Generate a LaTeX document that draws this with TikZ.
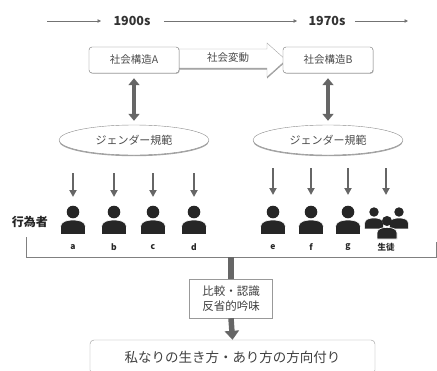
\documentclass[tikz,border=0pt]{standalone}
\usepackage{fontspec}
\setmainfont{Noto Sans CJK JP}
\usetikzlibrary{arrows.meta,calc,shadows,shapes.geometric}

\tikzset{
  struct/.style={draw=black!55, rounded corners=3pt, fill=white, minimum width=90pt, minimum height=26pt, text=black!70, font=\fontsize{10.5}{12}\selectfont, drop shadow={shadow xshift=0.7pt, shadow yshift=-0.8pt, fill=black!50}},
  norm/.style={ellipse, draw=black!45, fill=white, minimum width=150pt, minimum height=30pt, text=black!70, font=\fontsize{11}{12}\selectfont, drop shadow={shadow xshift=0pt, shadow yshift=-1.2pt, fill=black!70}},
  year/.style={font=\bfseries\fontsize{12.5}{14}\selectfont, text=black!80},
  timeline/.style={draw=black!55, line width=0.8pt, -{Triangle[width=3.5pt,length=3.5pt]}},
  biarrow/.style={draw=black!60, line width=4.5pt, {Triangle[width=11pt,length=7pt]}-{Triangle[width=11pt,length=7pt]}},
  down/.style={draw=black!60, line width=2pt, -{Triangle[width=7pt,length=7pt]}},
  icon/.style={fill=black!85},
  lbl/.style={font=\bfseries\fontsize{8.5}{10}\selectfont, text=black!85},
}

\newcommand\person[3]{% x, y of head, scale
  \begin{scope}[shift={(#1,#2)}, scale=#3]
    \fill[icon] (0,0) circle (6.3);
    \fill[icon, draw=white, line width=0.6pt] (-12.5,22.5) -- (-12.5,15) .. controls (-12.5,9.5) and (-6,8) .. (0,8)
      .. controls (6,8) and (12.5,9.5) .. (12.5,15) -- (12.5,22.5) -- cycle;
  \end{scope}}

\begin{document}
\begin{tikzpicture}[x=1pt, y=-1pt]
  %%%%% START %%%%%
  \useasboundingbox (0,0) rectangle (437,370);
  \clip (0,0) rectangle (437,370);

  % time line
  \node[year] (y1900) at (132,21) {1900s};
  \node[year] (y1970) at (327,21) {1970s};
  \coordinate (t0) at (47,21);
  \coordinate (t1) at (408,21);
  \draw[timeline, shorten >=9pt] (t0) -- (y1900.west);
  \draw[timeline, shorten <=10pt, shorten >=8pt] (y1900.east) -- (y1970.west);
  \draw[timeline, shorten <=6pt] (y1970.east) -- (t1);

  % social change arrow
  \path[fill=white, draw=black!35, line width=0.4pt, drop shadow={shadow xshift=0pt, shadow yshift=-1.5pt, fill=black!80}]
    (176,49) -- (267,49) -- (267,43) -- (286,60) -- (267,77) -- (267,68) -- (176,68) -- cycle;
  \node[text=black!70, font=\fontsize{10.5}{12}\selectfont] (change) at (228,58) {社会変動};

  \node[struct] (sA) at (134,60) {社会構造A};
  \node[struct] (sB) at (328,60) {社会構造B};

  \node[norm] (nA) at (134,140) {ジェンダー規範};
  \node[norm] (nB) at (328,140) {ジェンダー規範};

  \draw[biarrow, shorten <=5pt, shorten >=4pt] (sA.south) -- (nA.north);
  \draw[biarrow, shorten <=5pt, shorten >=4pt] (sB.south) -- (nB.north);

  % actors
  \node[font=\bfseries\fontsize{12}{14}\selectfont, text=black!85] (actor) at (30,222) {行為者};
  \foreach \x/\n in {73/a,114/b,153/c,194/d}{
    \person{\x}{212}{1}
    \coordinate (top\n) at (\x,173);
    \coordinate (bot\n) at (\x,197);
    \draw[down] (top\n) -- (bot\n);
    \node[lbl] (l\n) at (\x,247) {\n};
  }
  \foreach \x/\n in {273/e,311/f,348/g}{
    \person{\x}{212}{1}
    \coordinate (top\n) at (\x,168);
    \coordinate (bot\n) at (\x,195);
    \draw[down] (top\n) -- (bot\n);
    \node[lbl] (l\n) at (\x,247) {\n};
  }
  \person{374}{212}{0.75}
  \person{399}{212}{0.75}
  \person{387}{221}{0.8}
  \coordinate (toph) at (386,168);
  \coordinate (both) at (386,195);
  \draw[down] (toph) -- (both);
  \node[lbl] (lh) at (386,247) {生徒};

  % bracket
  \coordinate (bL) at (26,237);
  \coordinate (bR) at (436,242);
  \draw[black!50, line width=0.6pt] (bL) |- (bR |- 0,257) -- (bR);
  \coordinate (bM) at (231,257);

  \node[draw=black!40, fill=white, align=left, text=black!75, font=\fontsize{11.5}{15}\selectfont, minimum width=83pt, minimum height=39pt, inner sep=2pt, drop shadow={shadow xshift=0.8pt, shadow yshift=-1.2pt, fill=black!75}] (cmp) at (231,298.5) {比較・認識\\反省的吟味};
  \draw[draw=black!60, line width=5.5pt] (bM) -- (cmp.north);

  \node[draw=black!40, rounded corners=4pt, fill=white, minimum width=285pt, minimum height=34pt, text=black!75, font=\fontsize{13.5}{15}\selectfont] (goal) at (232.5,357) {私なりの生き方・あり方の方向付り};
  \draw[draw=black!60, line width=5.5pt, -{Triangle[width=14pt,length=9pt]}] (cmp.south) -- (goal.north);
  %%%%% END %%%%%
\end{tikzpicture}
\end{document}
